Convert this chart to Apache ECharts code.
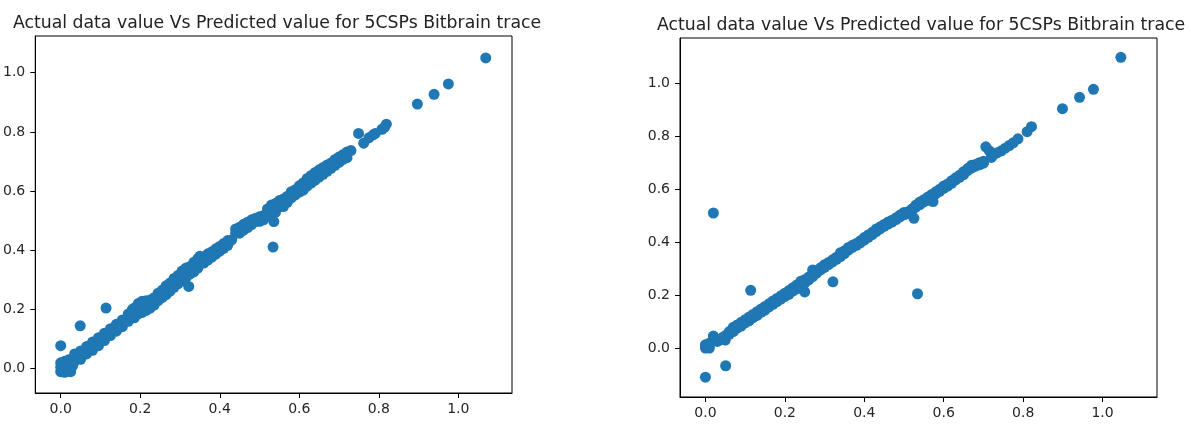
<!DOCTYPE html>
<html>
<head>
<meta charset="utf-8">
<title>Actual vs Predicted</title>
<script src="https://cdn.jsdelivr.net/npm/echarts@6/dist/echarts.min.js"></script>
<style>
  html, body { margin: 0; padding: 0; background: #fff; }
  #chart { width: 1191px; height: 427px; }
</style>
</head>
<body>
<div id="chart"></div>
<script>
// tick labels
var xTicks = [0, 0.2, 0.4, 0.6, 0.8, 1.0];
var yTicks = [0, 0.2, 0.4, 0.6, 0.8, 1.0];

// left panel: [actual, predicted]
var leftPoints = [
  [0, -0.01], [0, 0.005], [0, 0.02], [0.005, -0.005], [0.005, 0.012], [0.01, -0.012], [0.01, 0.025],
  [0.015, 0.0], [0.02, 0.005], [0.02, 0.03], [0.025, -0.01], [0.025, 0.015], [0.03, 0.01],
  [0.035, 0.025], [0.035, 0.05], [0.05, 0.032], [0.05, 0.06], [0.065, 0.05], [0.065, 0.075],
  [0.08, 0.062], [0.08, 0.09], [0.095, 0.078], [0.095, 0.105], [0.11, 0.095], [0.11, 0.12],
  [0.125, 0.112], [0.125, 0.135], [0.14, 0.127], [0.14, 0.15], [0.155, 0.142], [0.155, 0.165],
  [0.17, 0.16], [0.17, 0.185], [0.18, 0.2], [0.185, 0.172], [0.185, 0.205], [0.195, 0.185], [0.195, 0.22],
  [0.205, 0.19], [0.205, 0.228], [0.215, 0.197], [0.215, 0.23], [0.225, 0.205], [0.225, 0.232],
  [0.235, 0.215], [0.235, 0.24], [0.245, 0.23], [0.245, 0.255], [0.255, 0.24], [0.255, 0.265],
  [0.265, 0.25], [0.265, 0.28], [0.275, 0.262], [0.275, 0.29], [0.285, 0.275], [0.285, 0.305],
  [0.295, 0.287], [0.295, 0.315], [0.305, 0.297], [0.305, 0.33], [0.315, 0.307], [0.315, 0.34],
  [0.325, 0.32], [0.325, 0.345], [0.335, 0.327], [0.335, 0.36], [0.345, 0.34], [0.345, 0.372],
  [0.35, 0.38], [0.36, 0.357], [0.36, 0.378], [0.37, 0.367], [0.37, 0.388], [0.38, 0.377], [0.38, 0.395],
  [0.39, 0.387], [0.39, 0.405], [0.4, 0.397], [0.4, 0.413], [0.41, 0.407], [0.41, 0.423], [0.42, 0.417],
  [0.42, 0.433], [0.43, 0.435],
  [0.44, 0.458], [0.44, 0.472], [0.45, 0.458], [0.45, 0.478], [0.46, 0.468], [0.46, 0.488],
  [0.47, 0.477], [0.47, 0.495], [0.48, 0.487], [0.48, 0.503], [0.49, 0.497], [0.49, 0.508],
  [0.5, 0.498], [0.5, 0.513], [0.51, 0.503], [0.51, 0.518], [0.52, 0.517], [0.52, 0.54],
  [0.53, 0.528], [0.53, 0.553], [0.54, 0.528], [0.54, 0.558], [0.55, 0.547], [0.55, 0.568],
  [0.56, 0.548], [0.56, 0.573], [0.57, 0.562], [0.57, 0.583], [0.58, 0.577], [0.58, 0.598],
  [0.59, 0.587], [0.59, 0.605], [0.6, 0.597], [0.6, 0.618], [0.61, 0.603], [0.61, 0.628],
  [0.62, 0.617], [0.62, 0.643], [0.63, 0.627], [0.63, 0.653], [0.64, 0.637], [0.64, 0.663],
  [0.65, 0.647], [0.65, 0.672], [0.66, 0.657], [0.66, 0.68], [0.67, 0.667], [0.67, 0.688],
  [0.68, 0.677], [0.68, 0.695], [0.69, 0.687], [0.69, 0.707], [0.7, 0.697], [0.7, 0.715],
  [0.71, 0.707], [0.71, 0.723], [0.72, 0.713], [0.72, 0.732], [0.73, 0.737],
  [0.749, 0.795], [0.762, 0.762], [0.775, 0.78], [0.786, 0.79], [0.791, 0.795],
  [0.808, 0.809], [0.814, 0.815], [0.819, 0.826],
  [0.897, 0.894], [0.939, 0.927], [0.975, 0.962], [1.069, 1.05],
  [0, 0.078], [0.049, 0.145], [0.114, 0.205], [0.322, 0.278], [0.534, 0.411], [0.536, 0.497]
];

// right panel: [actual, predicted]
var rightPoints = [
  [0, 0], [0, 0.012], [0.005, 0.005], [0.01, 0.0], [0.01, 0.018], [0.015, 0.022], [0.02, 0.045],
  [0.025, 0.035], [0.03, 0.025], [0.035, 0.03], [0.04, 0.035], [0.045, 0.042], [0.05, 0.03],
  [0.052, 0.048], [0.06, 0.052], [0.06, 0.062], [0.07, 0.062], [0.07, 0.078], [0.08, 0.075],
  [0.08, 0.087], [0.09, 0.083], [0.09, 0.097], [0.1, 0.095], [0.1, 0.107], [0.11, 0.103],
  [0.11, 0.117], [0.12, 0.115], [0.12, 0.127], [0.13, 0.123], [0.13, 0.137], [0.14, 0.135],
  [0.14, 0.147], [0.15, 0.143], [0.15, 0.157], [0.16, 0.155], [0.16, 0.167], [0.17, 0.165],
  [0.17, 0.178], [0.18, 0.175], [0.18, 0.187], [0.19, 0.185], [0.19, 0.197], [0.2, 0.195],
  [0.2, 0.207], [0.21, 0.203], [0.21, 0.217], [0.22, 0.215], [0.22, 0.228], [0.23, 0.223],
  [0.23, 0.238], [0.24, 0.235], [0.24, 0.252], [0.25, 0.212], [0.25, 0.245], [0.25, 0.258],
  [0.26, 0.257], [0.26, 0.268], [0.27, 0.27], [0.27, 0.295], [0.28, 0.283], [0.28, 0.293],
  [0.29, 0.295], [0.29, 0.303], [0.3, 0.305], [0.3, 0.315], [0.31, 0.315], [0.31, 0.323],
  [0.32, 0.325], [0.32, 0.333], [0.33, 0.335], [0.33, 0.343], [0.34, 0.345], [0.34, 0.36],
  [0.35, 0.357], [0.35, 0.367], [0.36, 0.37], [0.36, 0.38], [0.37, 0.38], [0.37, 0.388],
  [0.38, 0.388], [0.38, 0.395], [0.39, 0.397], [0.39, 0.405], [0.4, 0.408], [0.4, 0.417],
  [0.41, 0.418], [0.41, 0.427], [0.42, 0.428], [0.42, 0.437], [0.43, 0.44], [0.43, 0.45],
  [0.44, 0.45], [0.44, 0.458], [0.45, 0.46], [0.45, 0.467], [0.46, 0.468], [0.46, 0.476],
  [0.47, 0.476], [0.47, 0.483], [0.48, 0.485], [0.48, 0.492], [0.49, 0.495], [0.49, 0.502],
  [0.5, 0.503], [0.5, 0.512], [0.51, 0.508], [0.51, 0.515], [0.52, 0.517], [0.52, 0.525],
  [0.525, 0.49], [0.525, 0.53], [0.53, 0.532], [0.53, 0.54], [0.54, 0.542], [0.54, 0.552],
  [0.55, 0.552], [0.55, 0.56], [0.56, 0.558], [0.56, 0.57], [0.573, 0.553], [0.57, 0.58],
  [0.58, 0.582], [0.58, 0.59], [0.59, 0.592], [0.59, 0.6], [0.6, 0.603], [0.6, 0.612],
  [0.61, 0.612], [0.61, 0.62], [0.62, 0.622], [0.62, 0.632], [0.63, 0.635], [0.63, 0.643],
  [0.64, 0.645], [0.64, 0.653], [0.65, 0.655], [0.65, 0.666], [0.66, 0.67], [0.66, 0.678],
  [0.67, 0.68], [0.67, 0.69], [0.68, 0.687], [0.68, 0.693], [0.69, 0.692], [0.69, 0.7],
  [0.7, 0.698], [0.7, 0.705], [0.706, 0.76], [0.715, 0.745], [0.72, 0.72], [0.725, 0.73],
  [0.735, 0.738], [0.745, 0.745], [0.755, 0.755], [0.765, 0.765], [0.775, 0.775], [0.787, 0.79],
  [0.81, 0.817], [0.821, 0.836], [0.899, 0.904], [0.942, 0.947], [0.977, 0.977], [1.046, 1.098],
  [0.02, 0.51], [0.114, 0.218], [0.321, 0.25], [0.534, 0.205], [0, -0.11], [0.051, -0.067]
];

var titleText = "Actual data value Vs Predicted value for 5CSPs Bitbrain trace";
var font = "DejaVu Sans";
var blue = "#1f77b4";

function fmt(v) { return v.toFixed(1); }

function xAxisOf(gridIndex, min, max) {
  return {
    type: "value", gridIndex: gridIndex, min: min, max: max,
    splitLine: { show: false },
    axisLine: { show: true, onZero: false, lineStyle: { color: "#000", width: 1 } },
    axisTick: { show: true, inside: false, length: 5, lineStyle: { color: "#000" }, customValues: xTicks },
    axisLabel: { fontFamily: font, fontSize: 14, color: "#262626", margin: 9, formatter: fmt, customValues: xTicks }
  };
}

function yAxisOf(gridIndex, min, max) {
  return {
    type: "value", gridIndex: gridIndex, min: min, max: max,
    splitLine: { show: false },
    axisLine: { show: true, onZero: false, lineStyle: { color: "#000", width: 1 } },
    axisTick: { show: true, inside: false, length: 5, lineStyle: { color: "#000" }, customValues: yTicks },
    axisLabel: { fontFamily: font, fontSize: 14, color: "#262626", margin: 10, formatter: fmt, customValues: yTicks }
  };
}

var chart = echarts.init(document.getElementById("chart"), null, { renderer: "canvas" });
chart.setOption({
  backgroundColor: "#fff",
  animation: false,
  title: [
    { text: titleText, left: 272, top: 10, textAlign: "center",
      textStyle: { fontFamily: font, fontSize: 17.3, fontWeight: "normal", color: "#222" } },
    { text: titleText, left: 916, top: 12, textAlign: "center",
      textStyle: { fontFamily: font, fontSize: 17.3, fontWeight: "normal", color: "#222" } }
  ],
  grid: [
    { left: 34, top: 36, width: 478, height: 357, show: true, borderColor: "#000", borderWidth: 1 },
    { left: 680, top: 38, width: 477, height: 359, show: true, borderColor: "#000", borderWidth: 1 }
  ],
  xAxis: [xAxisOf(0, -0.064, 1.135), xAxisOf(1, -0.064, 1.137)],
  yAxis: [yAxisOf(0, -0.082, 1.124), yAxisOf(1, -0.185, 1.171)],
  series: [
    { type: "scatter", xAxisIndex: 0, yAxisIndex: 0, data: leftPoints,
      symbolSize: 11, itemStyle: { color: blue, opacity: 1 } },
    { type: "scatter", xAxisIndex: 1, yAxisIndex: 1, data: rightPoints,
      symbolSize: 11, itemStyle: { color: blue, opacity: 1 } }
  ]
});
</script>
</body>
</html>
